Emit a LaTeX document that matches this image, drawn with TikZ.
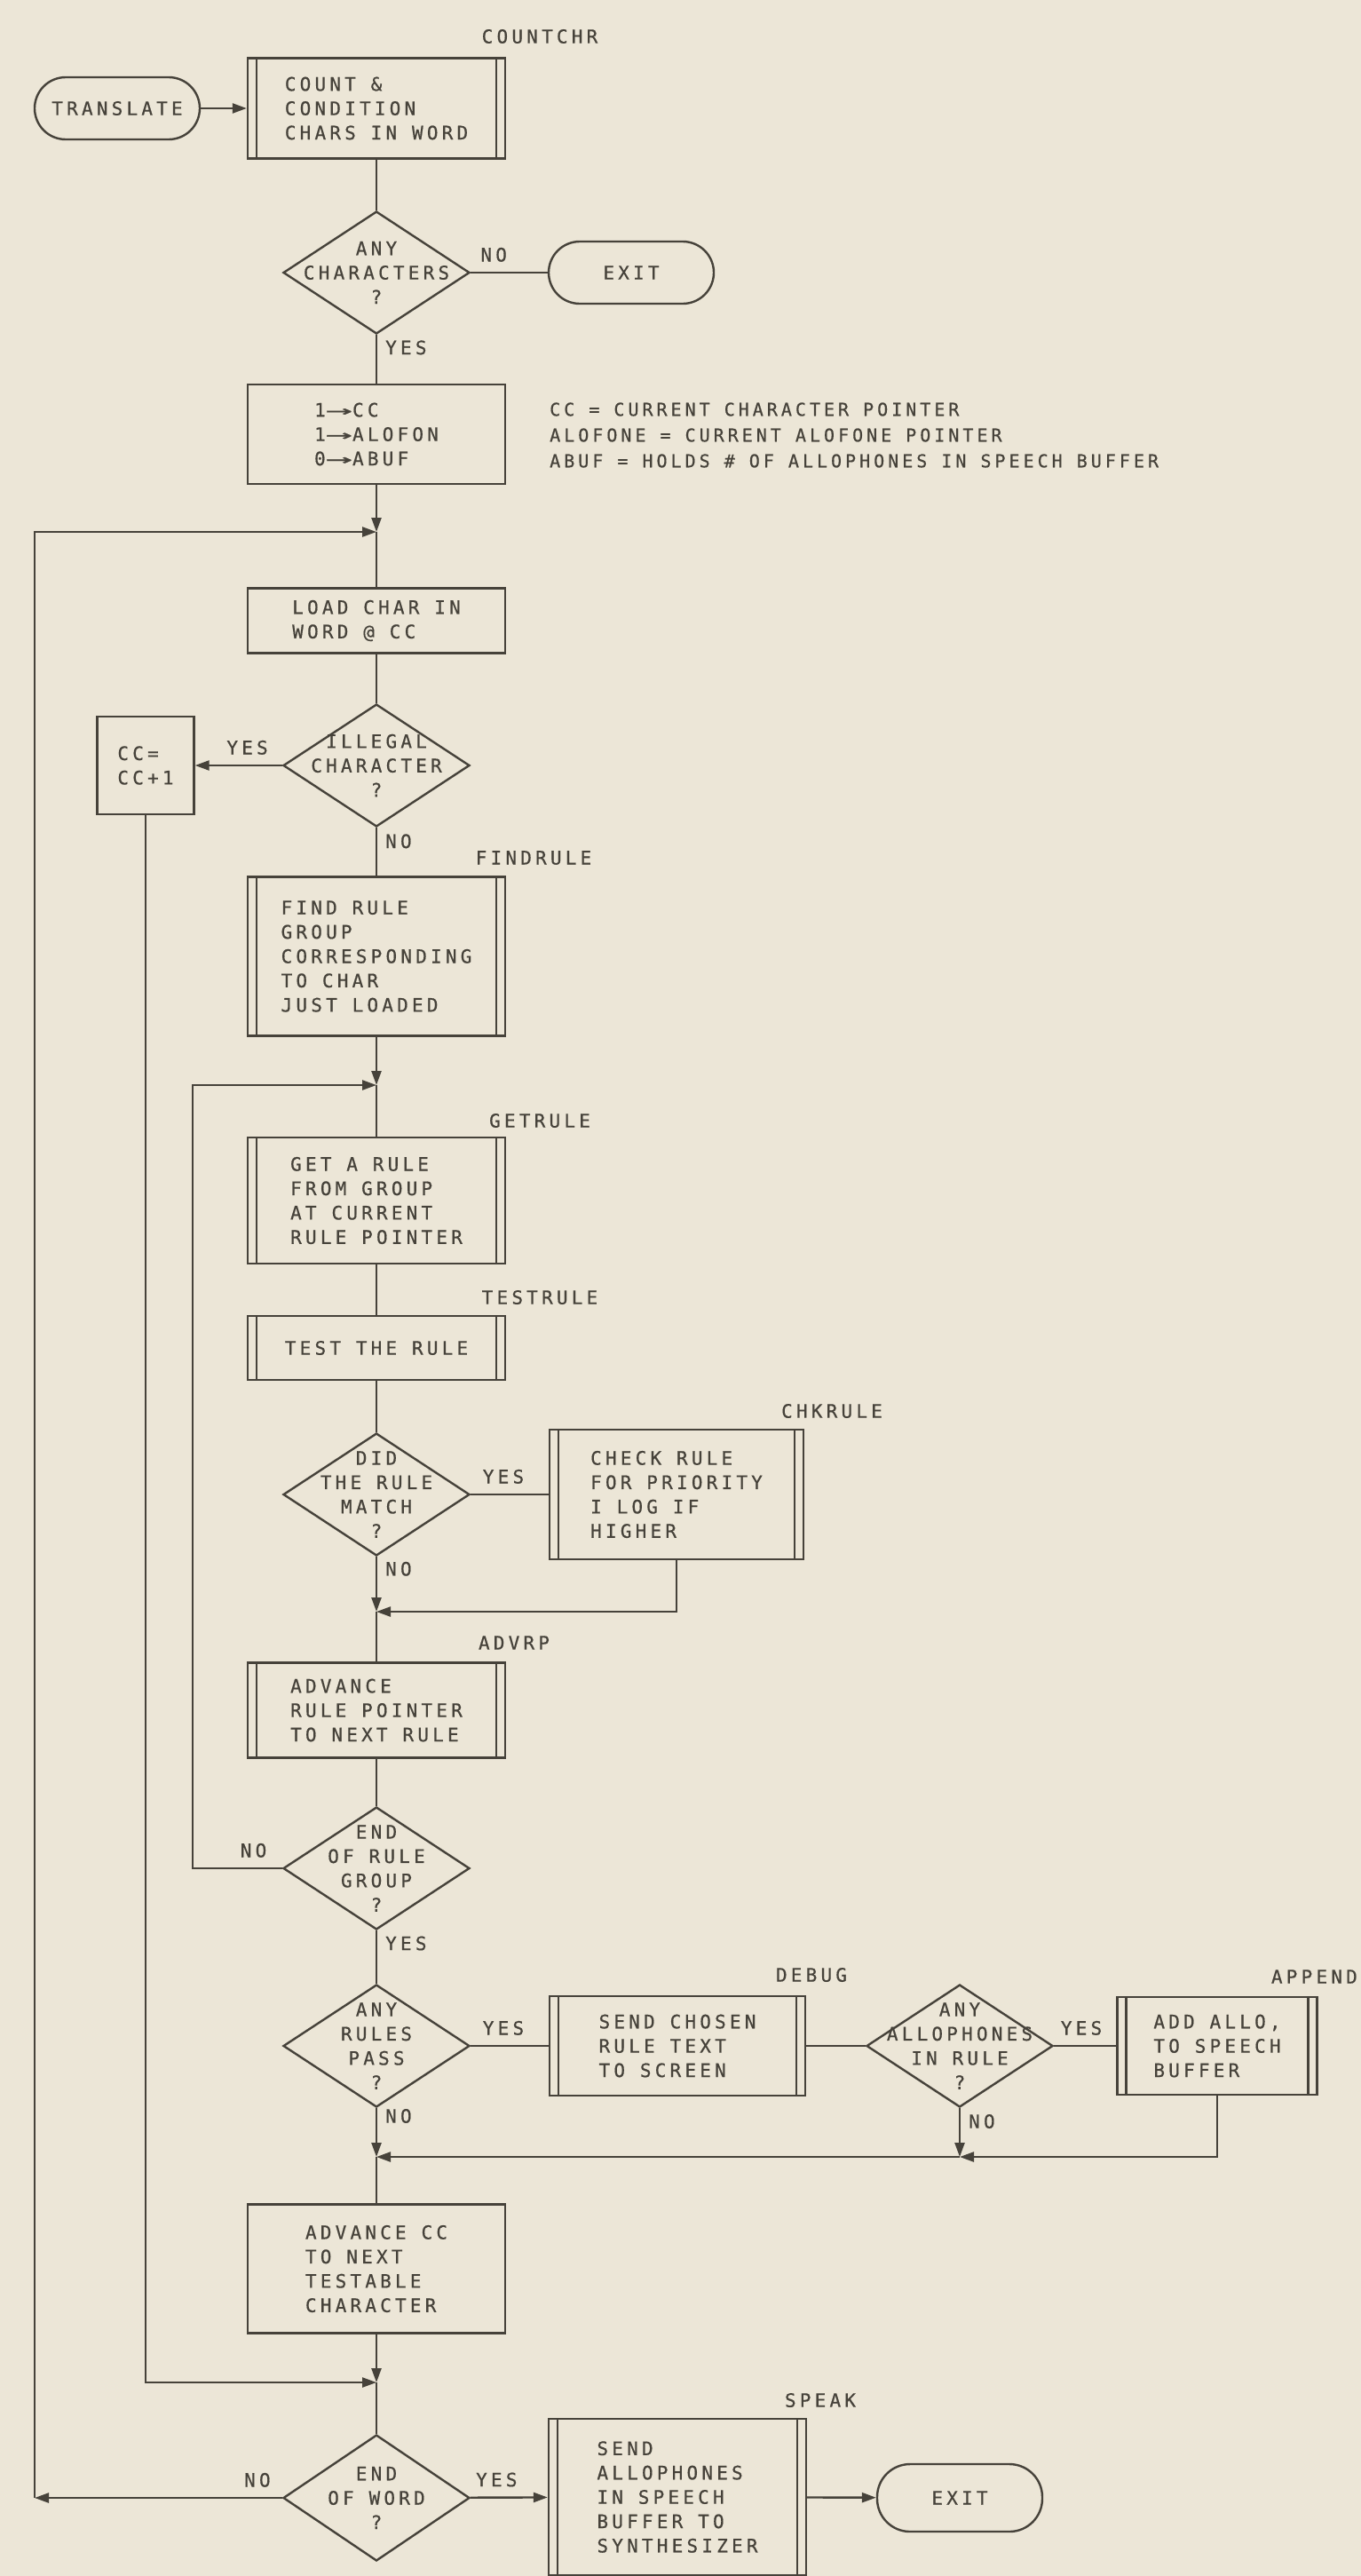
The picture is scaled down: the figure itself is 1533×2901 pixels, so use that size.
\documentclass[tikz,border=0pt]{standalone}
\usepackage{fontspec}
\usepackage{graphicx}
\usetikzlibrary{arrows.meta,shapes.geometric}

\newfontfamily\chartfont[LetterSpace=20,FakeBold=0.6]{DejaVu Sans Mono}
\definecolor{paper}{RGB}{236,230,215}
\definecolor{ink}{RGB}{70,66,58}
\newcommand{\asgn}{\scalebox{2.4}[1]{→}}

\tikzset{
  term/.style={rectangle,rounded corners=35pt,draw,minimum width=186pt,minimum height=70pt},
  proc/.style={rectangle,draw,minimum width=290pt,align=left},
  sub/.style={proc,path picture={
      \draw ([xshift=10pt]path picture bounding box.north west) -- ([xshift=10pt]path picture bounding box.south west);
      \draw ([xshift=-10pt]path picture bounding box.north east) -- ([xshift=-10pt]path picture bounding box.south east);
  }},
  dec/.style={diamond,draw,minimum width=210pt,minimum height=138pt,inner sep=-45pt,align=center},
  tag/.style={inner sep=0pt},
  yn/.style={inner sep=3pt}
}

\begin{document}
\begin{tikzpicture}[x=1pt,y=-1pt,line width=2.4pt,color=ink,
  every node/.style={font=\chartfont\fontsize{21pt}{27.4pt}\selectfont}]
\useasboundingbox (0,0) rectangle (1533,2901);
\fill[paper] (0,0) rectangle (1533,2901);
\clip (0,0) rectangle (1533,2901);

	\node[term] (translate) at (132,122) {TRANSLATE};
	\node[sub,minimum height=113pt] (countchr) at (424,122) {COUNT \&\\CONDITION\\CHARS IN WORD};
	\node[tag] (lblcount) at (608,41) {COUNTCHR};
	\node[dec] (anychar) at (424,307) {ANY\\CHARACTERS\\?};
	\node[term] (exitA) at (711,307) {EXIT};
	\node[proc,minimum height=112pt] (init) at (424,489) {1\asgn CC\\1\asgn ALOFON\\0\asgn ABUF};
	\node[anchor=west,align=left,inner sep=0pt,font=\chartfont\fontsize{20pt}{29pt}\selectfont] (legend) at (618,490)
		{CC = CURRENT CHARACTER POINTER\\ALOFONE = CURRENT ALOFONE POINTER\\ABUF = HOLDS \# OF ALLOPHONES IN SPEECH BUFFER};
	\coordinate (j1) at (424,599);
	\node[proc,minimum height=73pt] (load) at (424,699) {LOAD CHAR IN\\WORD @ CC};
	\node[dec] (illegal) at (424,862) {ILLEGAL\\CHARACTER\\?};
	\node[proc,minimum width=109pt,minimum height=110pt] (ccinc) at (164,862) {CC=\\CC+1};
	\node[sub,minimum height=179pt] (findrule) at (424,1077) {FIND RULE\\GROUP\\CORRESPONDING\\TO CHAR\\JUST LOADED};
	\node[tag] (lblfind) at (601,966) {FINDRULE};
	\coordinate (j2) at (424,1222);
	\node[sub,minimum height=142pt] (getrule) at (424,1352) {GET A RULE\\FROM GROUP\\AT CURRENT\\RULE POINTER};
	\node[tag] (lblget) at (608,1262) {GETRULE};
	\node[sub,minimum height=72pt] (testrule) at (424,1518) {TEST THE RULE};
	\node[tag] (lbltest) at (608,1461) {TESTRULE};
	\node[dec] (match) at (424,1683) {DID\\THE RULE\\MATCH\\?};
	\node[sub,minimum width=286pt,minimum height=146pt] (chkrule) at (762,1683) {CHECK RULE\\FOR PRIORITY\\I LOG IF\\HIGHER};
	\node[tag] (lblchk) at (937,1589) {CHKRULE};
	\coordinate (j3) at (424,1815);
	\node[sub,minimum height=107pt] (advrp) at (424,1926) {ADVANCE\\RULE POINTER\\TO NEXT RULE};
	\node[tag] (lbladv) at (579,1850) {ADVRP};
	\node[dec] (endgroup) at (424,2104) {END\\OF RULE\\GROUP\\?};
	\coordinate (c2) at (217,2104);
	\node[dec] (anypass) at (424,2304) {ANY\\RULES\\PASS\\?};
	\node[sub,minimum width=288pt,minimum height=112pt] (debug) at (763,2304) {SEND CHOSEN\\RULE TEXT\\TO SCREEN};
	\node[tag] (lbldebug) at (914,2224) {DEBUG};
	\node[dec] (anyallo) at (1081,2304) {ANY\\ALLOPHONES\\IN RULE\\?};
	\node[sub,minimum width=225pt,minimum height=110pt] (append) at (1371,2304) {ADD ALLO,\\TO SPEECH\\BUFFER};
	\node[tag,anchor=east] (lblappend) at (1530,2226) {APPEND};
	\coordinate (j4) at (424,2429);
	\coordinate (j5) at (1081,2429);
	\node[proc,minimum height=145pt] (advcc) at (424,2555) {ADVANCE CC\\TO NEXT\\TESTABLE\\CHARACTER};
	\coordinate (j6) at (424,2683);
	\node[dec,minimum height=142pt] (endword) at (424,2813) {END\\OF WORD\\?};
	\coordinate (c1) at (39,2813);
	\node[sub,minimum height=176pt] (speak) at (763,2812) {SEND\\ALLOPHONES\\IN SPEECH\\BUFFER TO\\SYNTHESIZER};
	\node[tag] (lblspeak) at (924,2703) {SPEAK};
	\node[term,minimum height=76pt,rounded corners=37pt] (exitB) at (1081,2813) {EXIT};

	\begin{scope}[>={Triangle[length=16pt,width=11pt]}]
		\draw[->] (translate) -- (countchr);
		\draw (countchr) -- (anychar);
		\draw (anychar) -- node[yn,pos=0.30,above=8pt] (noA) {NO} (exitA);
		\draw (anychar) -- node[yn,pos=0.26,right=6pt] (yesA) {YES} (init);
		\draw[->] (init) -- (j1);
		\draw (j1) -- (load);
		\draw (load) -- (illegal);
		\draw[->] (illegal) -- node[yn,pos=0.40,above=8pt] (yesB) {YES} (ccinc);
		\draw (illegal) -- node[yn,pos=0.28,right=6pt] (noB) {NO} (findrule);
		\draw[->] (findrule) -- (j2);
		\draw (j2) -- (getrule);
		\draw (getrule) -- (testrule);
		\draw (testrule) -- (match);
		\draw (match) -- node[yn,pos=0.42,above=8pt] (yesC) {YES} (chkrule);
		\draw[->] (match) -- node[yn,pos=0.22,right=6pt] (noC) {NO} (j3);
		\draw[->] (chkrule) |- (j3);
		\draw (j3) -- (advrp);
		\draw (advrp) -- (endgroup);
		\draw[->] (endgroup) -- node[yn,pos=0.32,above=8pt] (noD) {NO} (c2) |- (j2);
		\draw (endgroup) -- node[yn,pos=0.24,right=6pt] (yesD) {YES} (anypass);
		\draw (anypass) -- node[yn,pos=0.42,above=8pt] (yesE) {YES} (debug);
		\draw (debug) -- (anyallo);
		\draw (anyallo) -- node[yn,pos=0.44,above=8pt] (yesF) {YES} (append);
		\draw[->] (anyallo) -- node[yn,pos=0.27,right=6pt] (noF) {NO} (j5);
		\draw[->] (append) |- (j5);
		\draw[->] (j5) -- (j4);
		\draw[->] (anypass) -- node[yn,pos=0.16,right=6pt] (noE) {NO} (j4);
		\draw (j4) -- (advcc);
		\draw[->] (advcc) -- (j6);
		\draw[->] (ccinc) |- (j6);
		\draw (j6) -- (endword);
		\draw[->] (endword) -- node[yn,pos=0.10,above=8pt] (noG) {NO} (c1);
		\draw[->] (c1) |- (j1);
		\draw[->] (endword) -- node[yn,pos=0.34,above=8pt] (yesG) {YES} (speak);
		\draw[->] (speak) -- (exitB);
	\end{scope}
\end{tikzpicture}
\end{document}
